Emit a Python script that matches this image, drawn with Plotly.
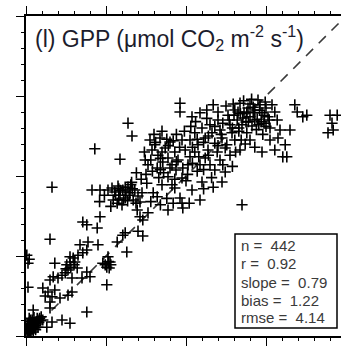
import plotly.graph_objects as go

# Observed vs. modelled GPP (umol CO2 m-2 s-1), grouped by range
low_pairs = [
    (0.2, 0.5), (0.3, 0.8), (0.4, 0.6), (0.5, 1.0), (0.6, 0.7), (0.7, 1.2), (0.8, 0.9),
    (0.9, 1.4), (1.0, 1.1), (1.1, 1.6), (1.2, 1.3), (1.3, 1.8), (1.4, 1.5), (1.5, 2.0),
    (1.6, 1.7), (1.7, 2.2), (1.8, 1.9), (0.3, 1.5), (0.5, 1.8), (0.8, 2.0), (1.0, 2.3),
    (0.2, 1.2), (0.6, 0.4), (1.2, 0.8), (0.4, 2.2), (1.9, 2.4), (2.1, 2.0), (0.9, 0.5),
    (1.5, 1.1), (0.1, 0.9), (2.6, 1.1), (3.25, 1.75), (4.5, 2.0), (5.5, 1.6), (0.9, 3.25),
    (3.0, 3.5), (7.6, 3.0), (0.25, 6.1), (2.1, 6.0), (2.75, 5.5), (3.25, 4.9), (3.0, 4.25),
    (4.25, 4.75), (5.25, 5.1), (5.75, 5.5), (2.4, 5.0), (3.6, 5.75), (0.1, 10.1),
    (0.25, 9.1), (0.4, 9.6),
]

mid_low_pairs = [
    (3.0, 12.1), (6.75, 11.4), (7.75, 11.75), (9.0, 11.4), (11.4, 11.75), (12.4, 12.9),
    (12.6, 10.5), (3.6, 9.1), (5.1, 8.9), (5.5, 9.25), (5.9, 9.75), (6.5, 10.1),
    (7.1, 10.4), (7.6, 10.75), (5.25, 8.25), (4.9, 7.9), (4.5, 7.6), (3.0, 7.0),
    (3.4, 7.4), (4.0, 7.25), (5.75, 7.25), (7.0, 7.25), (8.0, 7.4), (7.6, 8.0),
    (9.6, 9.1), (10.1, 8.6), (10.5, 9.25), (10.25, 9.9), (9.9, 8.9), (10.1, 6.4),
    (6.1, 9.25), (6.4, 8.5), (5.5, 9.9), (10.6, 8.9), (10.4, 8.5),
]

mid_pairs = [
    (3.25, 18.6), (8.25, 18.25), (9.25, 18.25), (10.25, 18.25), (10.75, 18.5),
    (11.1, 18.0), (11.5, 18.75), (11.75, 17.6), (12.1, 18.25), (12.4, 17.25),
    (12.75, 18.6), (13.0, 17.9), (13.4, 17.0), (13.6, 18.25), (14.0, 17.5),
    (14.25, 16.75), (10.9, 17.0), (11.4, 16.6), (12.0, 16.4), (12.5, 18.0),
    (13.1, 18.9), (14.5, 17.9), (11.6, 17.1), (13.75, 16.6), (7.1, 14.25),
    (7.6, 13.9), (8.9, 13.5), (9.25, 14.9), (12.1, 12.6), (13.9, 15.75),
    (14.25, 14.9), (14.6, 14.5), (15.25, 15.4), (14.0, 13.1), (14.6, 12.5),
    (15.9, 17.9), (16.4, 17.4), (15.1, 19.1), (17.0, 18.9), (17.75, 19.9),
    (18.25, 18.9), (19.5, 19.75), (18.6, 18.5), (19.25, 17.25), (19.6, 16.0),
    (17.75, 15.75), (19.5, 16.6), (20.75, 18.25), (21.75, 17.0), (22.0, 19.25),
    (23.4, 18.6), (24.5, 19.25), (27.0, 16.4),
]

mid_high_pairs = [
    (15.5, 24.5), (16.1, 23.9), (16.75, 24.75), (15.75, 23.25), (16.5, 22.6),
    (17.4, 23.5), (18.0, 24.25), (18.6, 23.0), (19.0, 22.0), (18.25, 21.4),
    (17.1, 21.75), (15.25, 21.4), (19.9, 23.25), (19.5, 24.5), (17.75, 22.25),
    (16.4, 21.0), (14.9, 22.0), (18.75, 20.75), (20.25, 21.4), (20.5, 22.4),
    (12.75, 26.6), (13.25, 25.0), (11.75, 22.1), (8.6, 23.4),
]

high_pairs = [
    (20.5, 24.5), (21.1, 25.4), (21.5, 23.9), (22.0, 26.0), (22.4, 24.75), (22.75, 23.25),
    (23.0, 26.4), (23.25, 25.4), (23.6, 24.1), (24.0, 27.0), (24.25, 25.75), (24.5, 24.75),
    (24.9, 23.5), (25.25, 27.6), (25.5, 26.4), (25.75, 25.4), (26.1, 28.25), (26.4, 27.0),
    (26.6, 26.0), (26.9, 24.5), (27.25, 27.9), (27.5, 26.75), (27.75, 28.5), (28.0, 27.4),
    (28.25, 26.25), (28.6, 28.25), (28.9, 27.1), (29.25, 28.9), (29.5, 27.9), (29.75, 26.6),
    (30.0, 28.5), (30.25, 27.4), (30.5, 26.0), (30.75, 28.9), (31.1, 28.0), (31.4, 27.0),
    (31.75, 25.75), (32.1, 22.4), (33.0, 25.75), (32.6, 22.4), (25.0, 28.75), (25.9, 29.0),
    (26.75, 29.1), (28.0, 29.0), (29.0, 29.5), (29.9, 29.25), (26.5, 28.0), (27.1, 27.25),
    (28.4, 27.9), (29.1, 26.4), (27.6, 25.4), (26.1, 24.5), (25.1, 23.9), (23.9, 23.0),
    (22.4, 22.25), (21.1, 23.0), (21.75, 21.4), (23.0, 21.4), (24.25, 22.0), (25.5, 22.6),
    (26.75, 23.25), (28.0, 24.5), (28.6, 23.6), (23.6, 20.75), (24.9, 20.5), (29.5, 23.0),
    (30.5, 24.5), (31.1, 23.25), (32.4, 23.9), (31.5, 24.75), (19.25, 29.1), (19.25, 28.0),
    (20.75, 27.4), (21.75, 27.9), (22.6, 28.25), (23.4, 28.9), (24.0, 28.0), (33.6, 28.9),
    (33.9, 28.0), (35.1, 27.6), (34.6, 27.4), (38.0, 27.6), (38.9, 27.6), (38.25, 26.6),
    (38.4, 25.75), (37.75, 25.4),
]

# extra samples inside the densest clusters
dense_pairs = [
    (26.0, 27.6), (26.8, 27.8), (27.6, 28.0), (28.4, 28.6), (29.2, 28.2), (29.8, 27.6),
    (30.4, 27.0), (27.0, 26.4), (27.8, 26.8), (28.6, 27.0), (29.4, 26.8), (25.4, 27.0),
    (24.6, 26.6), (25.8, 26.0), (26.6, 25.6), (28.8, 25.8), (27.2, 29.4), (28.2, 29.6),
    (24.4, 25.2), (23.6, 26.2), (22.8, 25.0), (22.2, 24.2), (21.4, 24.6), (20.8, 23.6),
    (22.6, 27.2), (30.0, 26.2), (29.6, 25.2), (27.4, 24.0), (26.2, 23.0), (24.0, 23.8),
    (11.8, 18.2), (12.4, 18.6), (12.9, 17.6), (11.2, 17.6), (12.2, 17.0), (13.3, 18.4),
    (11.6, 18.4), (12.7, 16.9), (16.2, 24.2), (17.0, 23.0), (17.8, 23.8), (18.4, 24.4),
    (16.8, 22.2), (19.2, 23.6), (0.4, 1.3), (0.7, 1.6), (1.1, 1.0), (0.6, 2.0),
    (1.4, 2.2), (0.3, 0.3), (5.0, 8.4), (5.6, 8.6), (6.0, 8.9), (10.3, 9.3),
]

# band between the mid and upper clusters
band_pairs = [
    (15.0, 20.2), (15.8, 20.6), (16.6, 19.8), (17.2, 20.4), (18.0, 21.0), (18.8, 21.8),
    (19.6, 21.0), (20.2, 20.2), (20.8, 21.6), (21.4, 20.6), (22.2, 20.8), (22.8, 22.6),
    (21.6, 22.4), (20.0, 19.4), (18.6, 19.6), (16.8, 20.8), (14.4, 19.6), (13.8, 20.4),
    (13.2, 19.2), (14.8, 23.0), (15.6, 22.0), (17.6, 24.6), (18.8, 25.2), (19.8, 25.6),
    (20.6, 26.2), (21.2, 26.8), (17.0, 25.6), (16.0, 25.2), (24.6, 21.4), (25.8, 21.2),
    (23.2, 19.8), (22.2, 18.4), (9.8, 17.6), (10.6, 16.2), (9.2, 16.8), (15.6, 16.8),
    (16.8, 16.4), (17.6, 17.2), (18.4, 16.6), (20.4, 16.6),
]

stats_labels = ["n =", "r =", "slope =", "bias =", "rmse ="]
stats_values = ["442", "0.92", "0.79", "1.22", "4.14"]

one_to_one = [0, 40]

pairs = (low_pairs + mid_low_pairs + mid_pairs + mid_high_pairs
         + high_pairs + dense_pairs + band_pairs)
obs = [p[0] for p in pairs]
sim = [p[1] for p in pairs]

W, H = 341, 351
ML, MT, MB = 26, 16, 15
plot_w = W - ML
plot_h = H - MT - MB
px_per_unit = plot_h / 40.0

fig = go.Figure()

fig.add_trace(go.Scatter(
    x=one_to_one, y=one_to_one, mode="lines",
    line=dict(color="#3a3a3a", width=1.6, dash="10px,8px"),
    hoverinfo="skip", showlegend=False,
))

fig.add_trace(go.Scatter(
    x=obs, y=sim, mode="markers",
    marker=dict(symbol="cross-thin-open", size=8, color="black",
                line=dict(color="black", width=1.6)),
    showlegend=False,
))

axis_common = dict(
    showline=True, linecolor="black", linewidth=1.5,
    ticks="outside", ticklen=8, tickwidth=1.3, tickcolor="black",
    dtick=10, tick0=0, showticklabels=False, showgrid=False, zeroline=False,
    minor=dict(dtick=2, ticks="outside", ticklen=3.5, tickwidth=1.1, tickcolor="black"),
)

fig.update_xaxes(range=[0, plot_w / px_per_unit], mirror="ticks", **axis_common)
fig.update_yaxes(range=[0, 40], mirror=False, **axis_common)

def px_x(p):
    return (p - ML) / plot_w

def px_y(p):
    return (H - MB - p) / plot_h

fig.add_annotation(
    xref="paper", yref="paper", x=px_x(33), y=px_y(20),
    xanchor="left", yanchor="top", showarrow=False,
    text="(l) GPP (\u03bcmol CO<sub>2</sub> m<sup>-2</sup> s<sup>-1</sup>)",
    font=dict(family="Liberation Sans, Arial, sans-serif", size=23, color="#1c1c2c"),
)

fig.add_shape(
    type="rect", xref="paper", yref="paper",
    x0=px_x(235), x1=px_x(337), y0=px_y(328), y1=px_y(234),
    line=dict(color="black", width=1.5), fillcolor="white", layer="above",
)

# one annotation per statistics line, centred on its row
row_centres = [245, 263, 282, 300, 317]
for label, value, yc in zip(stats_labels, stats_values, row_centres):
    fig.add_annotation(
        xref="paper", yref="paper", x=px_x(239), y=px_y(yc),
        xanchor="left", yanchor="middle", showarrow=False, align="left",
        text=f"{label}&nbsp; {value}",
        font=dict(family="Liberation Sans, Arial, sans-serif", size=15, color="#3a3a3a"),
    )

fig.update_layout(
    width=W, height=H,
    margin=dict(l=ML, r=0, t=MT, b=MB, pad=0),
    paper_bgcolor="white", plot_bgcolor="white",
)

fig.write_html("out.html")
